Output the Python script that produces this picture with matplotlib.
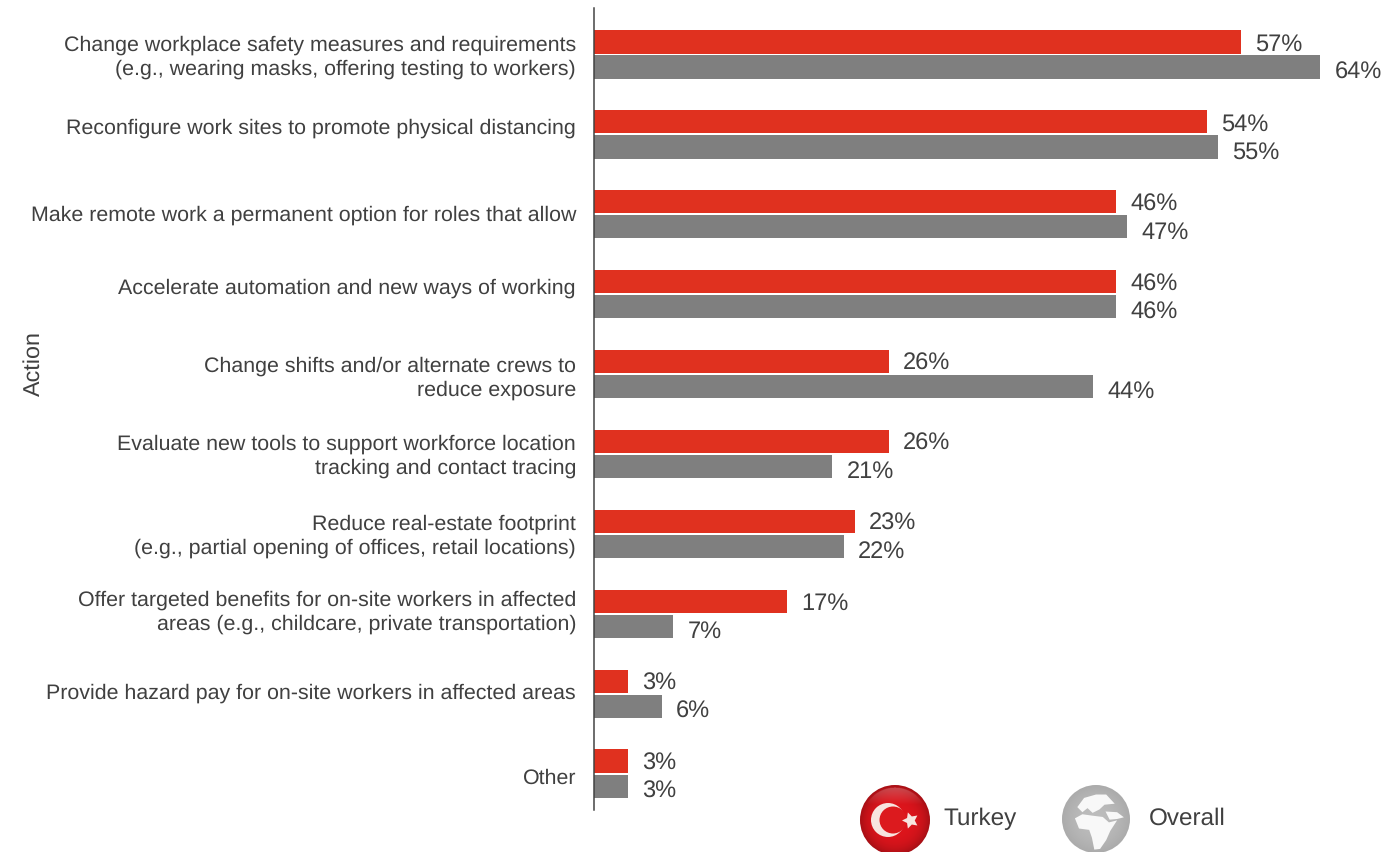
import numpy as np
import matplotlib
matplotlib.use('Agg')
import matplotlib.pyplot as plt
from matplotlib.patches import Circle, Polygon
from matplotlib.transforms import ScaledTranslation

plt.rcParams['font.family'] = ['Liberation Sans', 'DejaVu Sans']
plt.rcParams['text.hinting'] = 'no_hinting'

categories = [
    'Change workplace safety measures and requirements\n(e.g., wearing masks, offering testing to workers)',
    'Reconfigure work sites to promote physical distancing',
    'Make remote work a permanent option for roles that allow',
    'Accelerate automation and new ways of working',
    'Change shifts and/or alternate crews to\nreduce exposure',
    'Evaluate new tools to support workforce location\ntracking and contact tracing',
    'Reduce real-estate footprint\n(e.g., partial opening of offices, retail locations)',
    'Offer targeted benefits for on-site workers in affected\nareas (e.g., childcare, private transportation)',
    'Provide hazard pay for on-site workers in affected areas',
    'Other',
]
turkey = [57, 54, 46, 46, 26, 26, 23, 17, 3, 3]
overall = [64, 55, 47, 46, 44, 21, 22, 7, 6, 3]

RED = '#E0311F'
GREY = '#7F7F7F'
TEXT = '#404040'
W, H = 1388, 852
DPI = 100
PX = 72 / DPI  # one pixel in points

# vertical nudges (pixels, up is positive) for the category labels
label_nudge = [2, 8, 1, 8, 0, 2, 2, 5.5, 3, -3]


def add_icons(fig):
    # flag and globe next to the legend names, drawn in pixel coordinates
    ov = fig.add_axes([0, 0, 1, 1], facecolor='none')
    ov.set_xlim(0, W)
    ov.set_ylim(H, 0)
    ov.axis('off')

    yy, xx = np.mgrid[-1:1:200j, -1:1:200j]
    r = np.hypot(xx, yy)
    # flag disc
    cx, cy, rad = 895, 820, 35
    shade = np.clip(1 - 0.25 * r**4, 0, 1)
    img = np.dstack([0.87 * shade, 0.08 * shade, 0.11 * shade])
    glare = np.clip((-yy - 0.45) / 0.5, 0, 1) * (r < 0.93)
    img = img + (1 - img) * glare[..., None] * 0.25
    im = ov.imshow(img, extent=(cx - rad, cx + rad, cy + rad, cy - rad),
                   aspect='auto', zorder=2)
    im.set_clip_path(Circle((cx, cy), rad, transform=ov.transData))
    ov.add_patch(Circle((cx - 7, cy), 17, fc='#F7E4DF', ec='none', zorder=3))
    ov.add_patch(Circle((cx - 2, cy), 13.5, fc='#DC1A1E', ec='none', zorder=4))
    ov.scatter([cx + 15], [cy], marker=(5, 1, 90), s=150, c='#F7E4DF', lw=0, zorder=5)

    # globe disc
    gx, gy, grad = 1096, 819, 34
    shade = np.clip(0.74 - 0.07 * r**2, 0, 1)
    im = ov.imshow(np.dstack([shade] * 3), extent=(gx - grad, gx + grad, gy + grad, gy - grad),
                   aspect='auto', zorder=2)
    im.set_clip_path(Circle((gx, gy), grad, transform=ov.transData))
    land = [
        [(-0.55, -0.35), (-0.35, -0.62), (0.0, -0.72), (0.3, -0.72), (0.55, -0.45), (0.25, -0.42),
         (0.1, -0.28), (-0.1, -0.18), (-0.25, -0.32), (-0.4, -0.2)],
        [(-0.62, -0.02), (-0.4, -0.14), (-0.12, -0.1), (0.2, -0.06), (0.38, 0.1), (0.62, 0.04),
         (0.42, 0.35), (0.3, 0.62), (0.12, 0.88), (-0.05, 0.9), (-0.12, 0.55), (-0.2, 0.32),
         (-0.5, 0.28)],
        [(0.28, -0.22), (0.62, -0.2), (0.82, -0.05), (0.62, 0.0), (0.4, 0.02)],
    ]
    for poly in land:
        pts = [(gx + grad * px, gy + grad * py) for px, py in poly]
        p = Polygon(pts, fc='#F8F8F8', ec='none', zorder=3)
        ov.add_patch(p)
        p.set_clip_path(Circle((gx, gy), grad, transform=ov.transData))

    ov.text(943, 819, 'Turkey', fontsize=17.5, color=TEXT, va='center', ha='left')
    ov.text(1149, 819, 'Overall', fontsize=17.5, color=TEXT, va='center', ha='left')
    ov.text(34, 364, 'Action', fontsize=16.8, color=TEXT, va='center', ha='center', rotation=90)


def main():
    fig = plt.figure(figsize=(W / DPI, H / DPI), dpi=DPI, facecolor='white')

    # axes run from the vertical axis line to the right edge of the figure
    ax = fig.add_axes([594 / W, 1 - 810 / H, (W - 594) / W, (810 - 8) / H])
    pitch = 79.9
    ax.set_xlim(0, (W - 594) / 11.35)
    ax.set_ylim((810 - 54.5) / pitch, (8 - 54.5) / pitch)

    y = np.arange(len(categories))
    ax.barh(y - 0.157, turkey, height=0.29, color=RED, label='Turkey')
    ax.barh(y + 0.157, overall, height=0.29, color=GREY, label='Overall')

    for i in y:
        ax.annotate(f'{turkey[i]}%', (turkey[i], i - 0.157), xytext=(14 * PX, -2.5 * PX),
                    textcoords='offset points', fontsize=17, color=TEXT, va='center', ha='left')
        ax.annotate(f'{overall[i]}%', (overall[i], i + 0.157), xytext=(14 * PX, -5.5 * PX),
                    textcoords='offset points', fontsize=17, color=TEXT, va='center', ha='left')

    ax.set_yticks(y, categories, fontsize=15.42, color=TEXT, ma='right', linespacing=1.29)
    ax.tick_params(axis='y', length=0, pad=18 * PX)
    for lab, dy in zip(ax.get_yticklabels(), label_nudge):
        lab.set_transform(lab.get_transform() + ScaledTranslation(0, dy / DPI, fig.dpi_scale_trans))
    ax.set_xticks([])

    for s in ['top', 'right', 'bottom']:
        ax.spines[s].set_visible(False)
    ax.spines['left'].set_color('#404040')
    ax.spines['left'].set_linewidth(1.5 * PX)

    add_icons(fig)
    fig.savefig('out.png', dpi=DPI)


if __name__ == '__main__':
    main()
